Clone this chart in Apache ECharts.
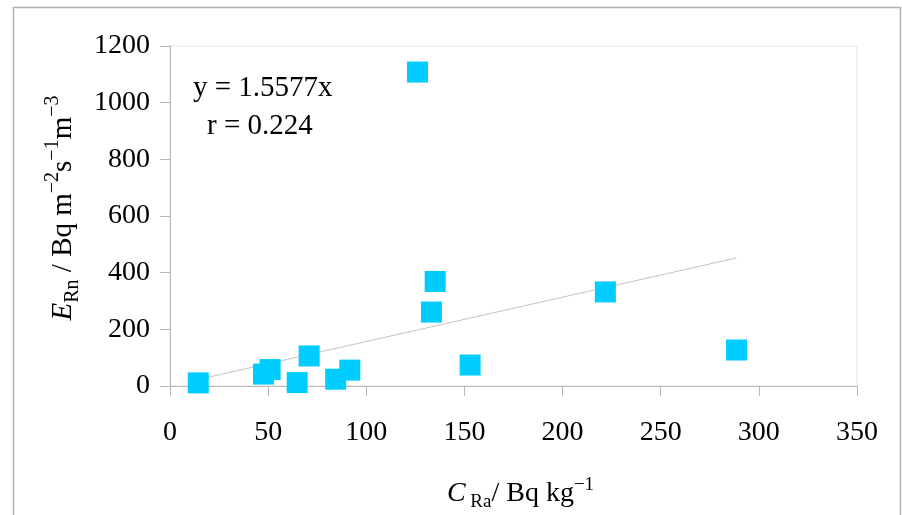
<!DOCTYPE html>
<html>
<head>
<meta charset="utf-8">
<script src="https://cdn.jsdelivr.net/npm/echarts@6/dist/echarts.min.js"></script>
<style>
  html, body { margin: 0; padding: 0; background: #fff; }
  #main { width: 902px; height: 515px; }
</style>
</head>
<body>
<div id="main"></div>
<script>
// 散点数据 (C_Ra, E_Rn)
const cRa = [14.4, 47.6, 51, 64.8, 70.9, 84.4, 91.6, 126.1, 133.2, 135.1, 152.9, 221.8, 288.6];
const eRn = [11, 42, 58, 12, 106, 24, 56, 1108, 261, 369, 74, 332, 127];
// 趋势线端点 y = 1.5577x
const trendX = [14.4, 288.6];
const trendY = [23, 452];
// 坐标轴刻度
const xTicks = [0, 50, 100, 150, 200, 250, 300, 350];
const yTicks = [0, 200, 400, 600, 800, 1000, 1200];

const serif = '"Liberation Serif", "DejaVu Serif", serif';

let points = [];
for (let i in cRa) {
  points.push([cRa[i], eRn[i]]);
}
let trend = [];
for (let i in trendX) {
  trend.push([trendX[i], trendY[i]]);
}

const chart = echarts.init(document.getElementById('main'), null, { renderer: 'canvas' });

const axisGray = '#b8b8b8';

chart.setOption({
  backgroundColor: '#fff',
  animation: false,
  grid: {
    left: 170, right: 45, top: 46, bottom: 129,
    outerBoundsMode: 'none',
    containLabel: false,
    show: true, borderColor: '#e3e3e3', borderWidth: 1
  },
  xAxis: {
    type: 'value',
    min: xTicks[0], max: xTicks[xTicks.length - 1], interval: 50,
    axisLine: { show: true, lineStyle: { color: axisGray } },
    axisTick: { show: true, length: 10, lineStyle: { color: axisGray } },
    splitLine: { show: false },
    axisLabel: { color: '#000', fontFamily: serif, fontSize: 28, margin: 33, formatter: v => String(v) },
    name: '{c|C}{sub| Ra}{t|/ Bq kg}{sup|−1}',
    nameLocation: 'middle',
    nameGap: 90,
    nameTextStyle: {
      color: '#000',
      padding: [0, 0, 0, 14],
      rich: {
        c: { fontFamily: serif, fontSize: 28, fontStyle: 'italic', color: '#000', lineHeight: 36, verticalAlign: 'middle' },
        t: { fontFamily: serif, fontSize: 28, color: '#000', lineHeight: 36, verticalAlign: 'middle' },
        sub: { fontFamily: serif, fontSize: 19, color: '#000', verticalAlign: 'bottom', lineHeight: 36 },
        sup: { fontFamily: serif, fontSize: 19, color: '#000', verticalAlign: 'top', lineHeight: 36 }
      }
    }
  },
  yAxis: {
    type: 'value',
    min: yTicks[0], max: yTicks[yTicks.length - 1], interval: 200,
    axisLine: { show: true, lineStyle: { color: axisGray } },
    axisTick: { show: true, length: 10, lineStyle: { color: axisGray } },
    splitLine: { show: false },
    axisLabel: { color: '#000', fontFamily: serif, fontSize: 28, margin: 20, formatter: v => String(v) },
    name: '{e|E}{sub|Rn}{t| / Bq m}{sup|−2}{t|s}{sup|−1}{t|m}{sup|−3}',
    nameLocation: 'middle',
    nameRotate: 90,
    nameGap: 80,
    nameTextStyle: {
      color: '#000',
      padding: [0, 0, 0, 16],
      rich: {
        e: { fontFamily: serif, fontSize: 29, fontStyle: 'italic', color: '#000', lineHeight: 40, verticalAlign: 'middle' },
        t: { fontFamily: serif, fontSize: 29, color: '#000', lineHeight: 40, verticalAlign: 'middle' },
        sub: { fontFamily: serif, fontSize: 20, color: '#000', verticalAlign: 'bottom', lineHeight: 40 },
        sup: { fontFamily: serif, fontSize: 20, color: '#000', verticalAlign: 'top', lineHeight: 40 }
      }
    }
  },
  series: [
    {
      type: 'line',
      data: trend,
      symbol: 'none',
      lineStyle: { color: '#c4c4c4', width: 1 },
      silent: true,
      z: 1
    },
    {
      type: 'scatter',
      data: points,
      symbol: 'rect',
      symbolSize: 21,
      itemStyle: { color: '#00ccff', opacity: 1 },
      z: 2
    }
  ],
  graphic: [
    {
      type: 'rect',
      shape: { x: 13.5, y: 7.5, width: 887, height: 540 },
      style: { fill: 'none', stroke: '#b0b0b0', lineWidth: 1.5 },
      silent: true
    },
    {
      type: 'text', left: 193, top: 74,
      style: { text: 'y = 1.5577x', fontFamily: serif, fontSize: 29, fill: '#000' }
    },
    {
      type: 'text', left: 207, top: 112,
      style: { text: 'r = 0.224', fontFamily: serif, fontSize: 29, fill: '#000' }
    }
  ]
});
</script>
</body>
</html>
